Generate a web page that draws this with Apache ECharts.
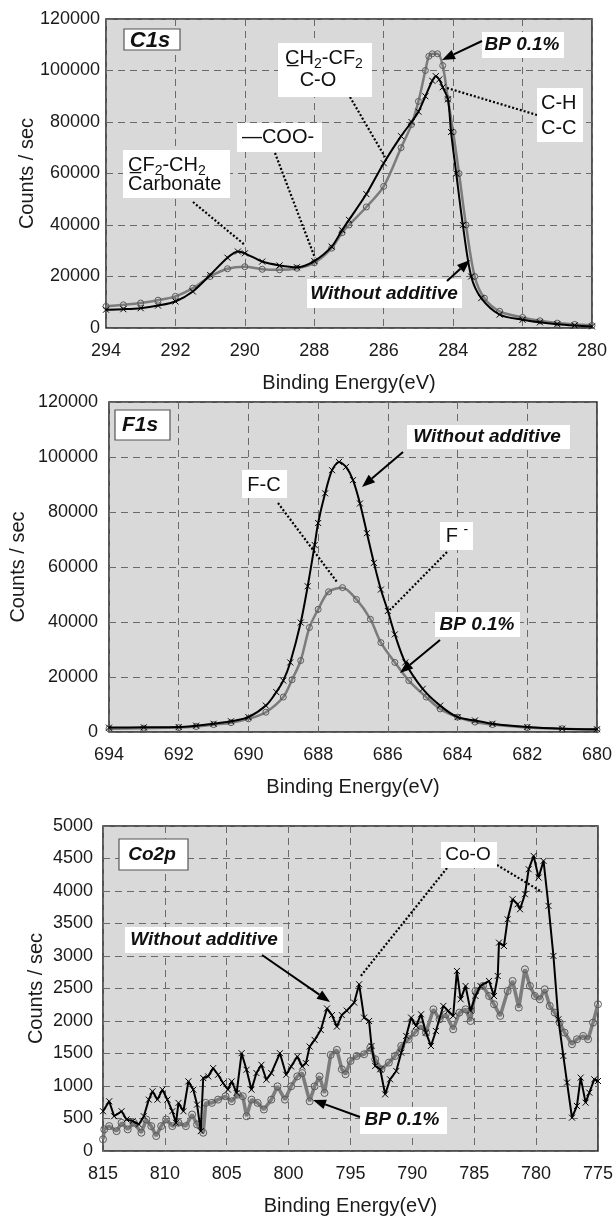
<!DOCTYPE html>
<html><head><meta charset="utf-8">
<script src="https://cdn.jsdelivr.net/npm/echarts@6/dist/echarts.min.js"></script>
<style>html,body{margin:0;padding:0;background:#fff}#c{width:616px;height:1217px}</style>
</head><body><div id="c"></div>
<script>
// ---------- C1s ----------
const c1sEnergyW = [294,293.5,293,292.5,292,291.5,291,290.5,290.2,290,289.5,289,288.5,288,287.5,287.2,287,286.5,286,285.5,285.2,285,284.8,284.6,284.5,284.4,284.3,284.15,284.06,283.91,283.72,283.48,283.19,282.66,282,281.5,281,280.5,280];
const c1sCountsW = [7100,7300,7700,8700,10300,14200,20600,27300,29700,29000,25800,24300,23600,26000,31600,38000,42000,52000,64000,74500,80000,84000,90000,96000,97800,96500,93500,88800,76100,60000,40000,20000,11600,5200,3200,2200,1500,1000,600];
const c1sEnergyBP = [294,293.5,293,292.5,292,291.5,291,290.5,290,289.5,289,288.5,288,287.5,287.2,287,286.5,286,285.5,285.2,285,284.8,284.7,284.6,284.45,284.3,284.15,284,283.83,283.63,283.38,283.1,282.66,282,281.5,281,280.5,280];
const c1sCountsBP = [8400,9000,9700,10800,12300,15500,20000,23000,23800,22800,22600,23200,25300,31000,37000,40000,47000,55000,70000,79000,88000,100000,105500,106500,106500,101900,89000,76100,60000,40000,20000,11600,6500,4100,2800,1900,1400,1000];
// ---------- F1s ----------
const f1sEnergyW = [694,693,692,691.5,691,690.5,690,689.5,689.2,689,688.8,688.5,688.3,688.1,688,687.8,687.6,687.4,687.2,687,686.8,686.6,686.4,686.2,686,685.8,685.5,685,684.5,684,683.5,683,682,681,680];
const f1sCountsW = [1600,1700,1800,2300,3000,3900,5400,9600,14500,18700,25300,39800,53000,68000,76000,86800,95200,98200,96400,91600,83100,72300,61500,51800,44000,35500,25300,15700,9600,5400,4200,3000,1800,1200,1000];
const f1sEnergyBP = [694,693,692,691.5,691,690.5,690,689.5,689,688.75,688.5,688.25,688,687.7,687.3,686.9,686.5,686.2,685.8,685.4,684.9,684.5,684,683.5,683,682,681,680];
const f1sCountsBP = [1200,1400,1600,2000,2700,3400,4800,7200,12700,19000,26000,38000,44600,51000,52500,48200,41000,32500,25300,18700,12700,8400,5400,3600,2700,1600,1200,800];
// ---------- Co2p ----------
const co2pEnergyW = [815.0,814.5,814.1,813.5,813.1,812.6,812.1,811.7,811.3,811.0,810.6,810.2,809.8,809.4,809.1,808.9,808.5,808.1,807.7,807.4,807.1,806.9,806.5,806.1,805.7,805.3,804.9,804.6,804.2,803.8,803.4,803.0,802.6,802.2,801.8,801.4,800.7,800.2,799.8,799.3,798.9,798.6,798.3,797.9,797.4,796.9,796.5,796.1,795.7,795.3,794.7,794.3,793.9,793.5,793.3,793.0,792.6,792.2,791.8,791.3,790.9,790.5,790.1,789.7,789.3,788.9,788.5,788.1,787.5,787.1,786.7,786.4,786.1,785.7,785.3,784.9,784.5,783.8,783.4,783.1,783.0,782.6,782.3,781.9,781.5,781.3,780.9,780.6,780.2,779.8,779.4,779.0,778.6,778.2,777.8,777.5,777.1,776.7,776.4,776.0,775.7,775.3,775.0];
const co2pCountsW = [612,765,535,612,485,460,408,535,790,918,790,944,790,612,434,740,612,1071,944,714,306,1122,1148,1275,1173,1046,944,1071,893,1505,1250,944,1199,1326,1097,1199,1505,1173,1301,1454,1301,1352,1607,1709,1862,2193,2091,1913,2091,2160,2283,2565,2052,2000,1616,1308,1257,872,1103,1231,1513,1770,2052,1924,2103,1821,1616,1847,2232,2155,2078,2770,2334,2539,2155,2385,2539,2616,2385,2693,3206,3155,3565,3873,3796,3719,3950,4335,4540,4207,4463,3771,3001,2026,1462,1052,513,693,1129,744,898,1103,1077];
const co2pEnergyBP = [815.0,814.9,814.5,813.9,813.5,813.0,812.5,811.9,811.5,811.1,810.7,810.3,809.9,809.4,808.9,808.3,807.8,807.4,806.9,806.7,806.2,805.7,805.1,804.6,804.1,803.7,803.4,803.0,802.5,802.0,801.4,800.9,800.3,799.8,799.3,798.9,798.3,797.9,797.5,797.1,796.6,796.1,795.7,795.4,795.0,794.5,793.9,793.4,793.0,792.5,791.9,791.4,790.9,790.3,789.8,789.3,788.9,788.3,787.8,787.3,786.7,786.2,785.7,785.3,784.9,784.3,783.8,783.4,782.9,782.3,781.9,781.4,780.9,780.5,780.1,779.7,779.3,778.9,778.5,778.1,777.7,777.1,776.7,776.2,775.8,775.4,775.0];
const co2pCountsBP = [180,332,383,306,434,332,434,281,485,383,230,383,485,383,434,383,561,408,281,740,740,790,842,765,867,842,535,790,740,638,790,995,790,995,1148,1199,765,995,1148,893,1479,1556,1257,1180,1385,1462,1488,1590,1411,1257,1360,1462,1616,1719,1821,1924,1821,2180,2026,2103,1872,2129,2180,2000,2462,2539,2385,2257,2078,2462,2616,2206,2796,2539,2385,2334,2488,2232,2129,1975,1821,1642,1719,1770,1719,1975,2257];

const xRanges = [{min:280,max:294,interval:2},{min:680,max:694,interval:2},{min:775,max:815,interval:5}];
const yRanges = [{min:0,max:120000,interval:20000},{min:0,max:120000,interval:20000},{min:0,max:5000,interval:500}];
const xName = 'Binding Energy(eV)';
const yName = 'Counts / sec';

const FONT = '"Liberation Sans", Arial, Helvetica, sans-serif';
const pairs = (xs, ys) => xs.map((x, i) => [x, ys[i]]);

const grids = [
  {left:106, top:19, width:486, height:309},
  {left:103, top:402, width:494, height:330},
  {left:103, top:826, width:501, height:327}
];
const yLabelMargin = [6, 11, 10];
const yNameGap = [69, 81, 57];

const dash = {color:'#6a6a6a', type:[7,5], width:1};

const option = {
  animation:false,
  backgroundColor:'#fff',
  grid: grids.map(g => Object.assign({show:true, backgroundColor:'#d9d9d9', borderColor:'#222', borderWidth:1.5}, g)),
  xAxis: xRanges.map((r, i) => ({
    gridIndex:i, type:'value', inverse:true, min:r.min, max:r.max, interval:r.interval,
    axisLine:{show:false}, axisTick:{show:false},
    splitLine:{show:true, lineStyle:dash},
    axisLabel:{fontSize:18, color:'#1a1a1a', fontFamily:FONT, margin:14, formatter: v => String(v)},
    name:xName, nameLocation:'middle', nameGap:45, nameMoveOverlap:false,
    nameTextStyle:{fontSize:20, color:'#1a1a1a', fontFamily:FONT}
  })),
  yAxis: yRanges.map((r, i) => ({
    gridIndex:i, type:'value', min:r.min, max:r.max, interval:r.interval,
    axisLine:{show:false}, axisTick:{show:false},
    splitLine:{show:true, lineStyle:dash},
    axisLabel:{fontSize:18, color:'#1a1a1a', fontFamily:FONT, margin:yLabelMargin[i], formatter: v => String(v)},
    name:yName, nameLocation:'middle', nameGap:yNameGap[i], nameMoveOverlap:false,
    nameTextStyle:{fontSize:20, color:'#1a1a1a', fontFamily:FONT}
  })),
  series: []
};

const crossSym = 'path://M0,0L10,10M10,0L0,10';
function bpSeries(i, data, smooth, lw, ss){
  return {type:'line', xAxisIndex:i, yAxisIndex:i, data, smooth, silent:true, z:2,
    symbol:'circle', symbolSize:ss, showAllSymbol:true,
    lineStyle:{color:'#7c7c7c', width:lw},
    itemStyle:{color:'rgba(0,0,0,0)', borderColor:'#5a5a5a', borderWidth:1}};
}
function woSeries(i, data, smooth){
  return {type:'line', xAxisIndex:i, yAxisIndex:i, data, smooth, silent:true, z:3,
    symbol:crossSym, symbolSize:6, showAllSymbol:true,
    lineStyle:{color:'#000', width:2},
    itemStyle:{color:'#000', borderColor:'#000', borderWidth:1}};
}
option.series.push(
  bpSeries(0, pairs(c1sEnergyBP, c1sCountsBP), 0.3, 2.5, 6),
  woSeries(0, pairs(c1sEnergyW, c1sCountsW), 0.3),
  bpSeries(1, pairs(f1sEnergyBP, f1sCountsBP), 0.3, 2.5, 6),
  woSeries(1, pairs(f1sEnergyW, f1sCountsW), 0.3),
  bpSeries(2, pairs(co2pEnergyBP, co2pCountsBP), false, 3.5, 7),
  woSeries(2, pairs(co2pEnergyW, co2pCountsW), false)
);

// ---------- annotations ----------
const els = [];
function box(x, y, w, h, border){
  els.push({type:'rect', z:100, shape:{x, y, width:w, height:h},
    style:{fill:'#fff', stroke: border ? '#555' : null, lineWidth: border ? 1.2 : 0}});
}
function txt(x, y, text, o){
  o = o || {};
  els.push({type:'text', z:101, x, y, style:{text, fontFamily:FONT, fontSize:o.size || 20,
    fontWeight:o.bold ? 'bold' : 'normal', fontStyle:o.italic ? 'italic' : 'normal',
    fill:'#111', align:o.align || 'center', verticalAlign:'middle', rich:o.rich}});
}
function dotted(x1, y1, x2, y2){
  els.push({type:'line', z:100, shape:{x1, y1, x2, y2}, style:{stroke:'#000', lineWidth:2.2, lineDash:[2,2]}});
}
function arrow(x1, y1, x2, y2){
  const a = Math.atan2(y2 - y1, x2 - x1), L = 13, W = 5;
  const c = Math.cos(a), s = Math.sin(a);
  const bx = x2 - L * c, by = y2 - L * s;
  els.push({type:'line', z:100, shape:{x1, y1, x2:bx, y2:by}, style:{stroke:'#000', lineWidth:2}});
  els.push({type:'polygon', z:100, shape:{points:[[x2, y2],[bx + W * s, by - W * c],[bx - W * s, by + W * c]]}, style:{fill:'#000'}});
}
const subRich = {s:{fontSize:14, fontFamily:FONT, padding:[12,0,0,0]}};
const supRich = {p:{fontSize:14, fontFamily:FONT, padding:[0,0,12,0]}};
const BI = {bold:true, italic:true, size:19};

// C1s panel
box(124, 29, 56, 21, true); txt(150, 41, 'C1s', {bold:true, italic:true, size:22});
dotted(193, 202, 245, 245);
box(123, 150, 107, 48, false);
txt(128, 165, 'C\u0332F{s|2}-CH{s|2}', {align:'left', rich:subRich});
txt(128, 184, 'Carbonate', {align:'left'});
dotted(275, 153, 315, 258);
box(237, 123, 85, 29, false); txt(278, 137, '\u2014COO-');
dotted(350, 97, 385, 157);
box(278, 43, 94, 54, false);
txt(324, 58, 'C\u0332H{s|2}-CF{s|2}', {rich:subRich});
txt(318, 80, 'C-O');
dotted(447, 88, 537, 115);
box(537, 88, 46, 54, false);
txt(541, 103, 'C-H', {align:'left'}); txt(541, 128, 'C-C', {align:'left'});
box(482, 32, 82, 26, false); txt(522, 45, 'BP 0.1%', BI);
arrow(482, 41, 442, 60);
box(307, 279, 155, 29, false); txt(384, 294, 'Without additive', BI);
arrow(447, 281, 470, 260);

// F1s panel
box(115, 410, 55, 30, true); txt(140, 425, 'F1s', {bold:true, italic:true, size:21});
dotted(278, 503, 337, 582);
box(242, 470, 45, 28, false); txt(264, 485, 'F-C');
box(407, 425, 163, 24, false); txt(487, 437, 'Without additive', BI);
arrow(403, 452, 362, 487);
dotted(447, 552, 390, 610);
box(440, 522, 33, 28, false); txt(457, 536, 'F {p|-}', {rich:supRich});
box(435, 612, 85, 25, false); txt(477, 625, 'BP 0.1%', BI);
arrow(440, 640, 400, 673);

// Co2p panel
box(119, 839, 69, 31, true); txt(152, 855, 'Co2p', {bold:true, italic:true, size:19});
box(125, 927, 158, 26, false); txt(204, 940, 'Without additive', BI);
arrow(262, 955, 330, 1002);
dotted(447, 868, 360, 977);
dotted(497, 865, 542, 892);
box(441, 842, 56, 26, false); txt(468, 855, 'Co-O', {size:19});
box(360, 1107, 87, 27, false); txt(402, 1120, 'BP 0.1%', BI);
arrow(360, 1117, 313, 1100);

option.graphic = {elements: els};

const chart = echarts.init(document.getElementById('c'), null, {renderer:'canvas'});
chart.setOption(option);
</script></body></html>
